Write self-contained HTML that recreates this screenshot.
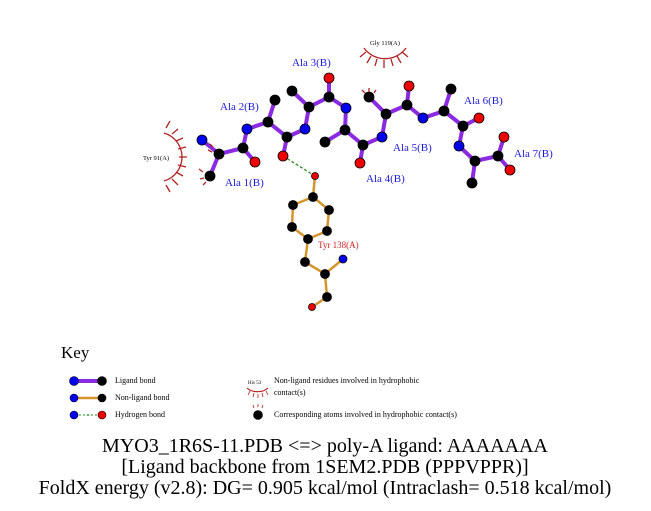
<!DOCTYPE html>
<html><head><meta charset="utf-8"><style>body{margin:0;background:#fff}svg{display:block}</style></head><body>
<svg width="651" height="511" viewBox="0 0 651 511" xmlns="http://www.w3.org/2000/svg" font-family="'Liberation Serif', serif">
<rect width="651" height="511" fill="#fff"/>
<g stroke="#8a2be2" stroke-width="4" stroke-linecap="round" fill="none">
<path d="M202 140L219 154L243 148L255 162M219 154L210 176M243 148L247 129L268 122L275 100M268 122L287 137L283 156M287 137L305 129L309 107L292 91M309 107L329 97L329 78M329 97L346 108L345 130L325 142M345 130L363 145L360 163M363 145L382 137L386 114L369 97M386 114L407 105L409 86M407 105L423 118L444 111L451 89M444 111L463 126L479 118M463 126L459 146L475 161L472 183M475 161L498 156L504 137M498 156L510 170"/>
</g>
<g stroke="#d4952c" stroke-width="2.5" fill="none">
<path d="M315 176L313 197L329 210L327 231L308 239L292 227L293 205L313 197M308 239L305 262L325 274L343 259M325 274L327 297L312 307"/>
</g>
<line x1="283" y1="156" x2="315" y2="176" stroke="#2a8a2a" stroke-width="1.3" stroke-dasharray="3,2"/>
<g stroke="#000" stroke-width="0.8">
<g fill="#0000ee"><circle cx="202" cy="140" r="5"/><circle cx="247" cy="129" r="5"/><circle cx="305" cy="129" r="5"/><circle cx="346" cy="108" r="5"/><circle cx="382" cy="137" r="5"/><circle cx="423" cy="118" r="5"/><circle cx="459" cy="146" r="5"/><circle cx="343" cy="259" r="4"/></g>
<g fill="#000"><circle cx="219" cy="154" r="5"/><circle cx="243" cy="148" r="5"/><circle cx="210" cy="176" r="5"/><circle cx="268" cy="122" r="5"/><circle cx="275" cy="100" r="5"/><circle cx="287" cy="137" r="5"/><circle cx="309" cy="107" r="5"/><circle cx="292" cy="91" r="5"/><circle cx="329" cy="97" r="5"/><circle cx="345" cy="130" r="5"/><circle cx="325" cy="142" r="5"/><circle cx="363" cy="145" r="5"/><circle cx="386" cy="114" r="5"/><circle cx="369" cy="97" r="5"/><circle cx="407" cy="105" r="5"/><circle cx="444" cy="111" r="5"/><circle cx="451" cy="89" r="5"/><circle cx="463" cy="126" r="5"/><circle cx="475" cy="161" r="5"/><circle cx="472" cy="183" r="5"/><circle cx="498" cy="156" r="5"/>
<circle cx="313" cy="197" r="4.5"/><circle cx="329" cy="210" r="4.5"/><circle cx="327" cy="231" r="4.5"/><circle cx="308" cy="239" r="4.5"/><circle cx="292" cy="227" r="4.5"/><circle cx="293" cy="205" r="4.5"/><circle cx="305" cy="262" r="4.5"/><circle cx="325" cy="274" r="4.5"/><circle cx="327" cy="297" r="4.5"/></g>
<g fill="#ee0000"><circle cx="255" cy="162" r="5"/><circle cx="283" cy="156" r="5"/><circle cx="329" cy="78" r="5"/><circle cx="360" cy="163" r="5"/><circle cx="409" cy="86" r="5"/><circle cx="479" cy="118" r="5"/><circle cx="504" cy="137" r="5"/><circle cx="510" cy="170" r="5"/><circle cx="315" cy="176" r="3.5"/><circle cx="312" cy="307" r="3.5"/></g>
</g>
<g stroke="#b22222" stroke-width="1.3" fill="none">
<path d="M164 133A25 25 0 0 1 164 181"/>
<path d="M166 128L170 121M172 134L178 129M176 141L183 138M178 149L186 147M179 157L187 157M178 165L186 167M176 172L183 176M172 179L178 185M166 185L170 192"/>
<path d="M364 48A26 26 0 0 0 406 48"/>
<path d="M366 52L360 57M371 56L367 63M377 59L375 66M384 60L384 68M391 59L393 66M397 56L401 63M402 52L408 57"/>
<path d="M203 172L199 169M204 178L200 179M206 182L203 185M212 152L208 150M213 147L210 144M365 93L362 90M369 92L369 88M374 93L376 90"/>
</g>
<g fill="#1a1adc" font-size="11">
<text x="225" y="186">Ala 1(B)</text><text x="220" y="110">Ala 2(B)</text><text x="292" y="66">Ala 3(B)</text><text x="366" y="182">Ala 4(B)</text><text x="393" y="151">Ala 5(B)</text><text x="464" y="104">Ala 6(B)</text><text x="514" y="157">Ala 7(B)</text>
</g>
<text x="318" y="248" fill="#cc2222" font-size="9">Tyr 138(A)</text>
<text x="143" y="160" font-size="6.5">Tyr 91(A)</text>
<text x="370" y="45" font-size="6.5">Gly 119(A)</text>
<text x="61" y="358" font-size="17">Key</text>
<line x1="75" y1="381" x2="102" y2="381" stroke="#8a2be2" stroke-width="4"/>
<line x1="75" y1="398" x2="102" y2="398" stroke="#d4952c" stroke-width="2.5"/>
<line x1="75" y1="415" x2="102" y2="415" stroke="#2a8a2a" stroke-width="1" stroke-dasharray="2,2"/>
<g stroke="#000" stroke-width="0.6"><circle cx="74" cy="381" r="4.5" fill="#0000ee"/><circle cx="102" cy="381" r="4.5" fill="#000"/><circle cx="74" cy="398" r="4" fill="#0000ee"/><circle cx="102" cy="398" r="4" fill="#000"/><circle cx="74" cy="415" r="4" fill="#0000ee"/><circle cx="102" cy="415" r="4" fill="#ee0000"/><circle cx="258" cy="415" r="4.5" fill="#000"/></g>
<text x="86" y="416" font-size="3" fill="#2a8a2a">3.0</text>
<g font-size="8"><text x="115" y="383">Ligand bond</text><text x="115" y="400">Non-ligand bond</text><text x="115" y="417">Hydrogen bond</text><text x="274" y="383">Non-ligand residues involved in hydrophobic</text><text x="274" y="395">contact(s)</text><text x="274" y="417">Corresponding atoms involved in hydrophobic contact(s)</text></g>
<text x="248" y="384" font-size="5">His 53</text>
<path d="M247 388A13 9 0 0 0 268 388" stroke="#b22222" fill="none" stroke-width="1.2"/>
<path d="M250 391L248 395M254 393L253 397M258 394L258 398M262 393L263 397M266 391L268 395M254 408L253 405M258 407L258 404M262 408L263 405" stroke="#b22222" stroke-width="0.8"/>
<g font-size="20" text-anchor="middle"><text x="325" y="452">MYO3_1R6S-11.PDB &lt;=&gt; poly-A ligand: AAAAAAA</text><text x="325" y="473">[Ligand backbone from 1SEM2.PDB (PPPVPPR)]</text><text x="325" y="494">FoldX energy (v2.8): DG= 0.905 kcal/mol (Intraclash= 0.518 kcal/mol)</text></g>
</svg>
</body></html>
